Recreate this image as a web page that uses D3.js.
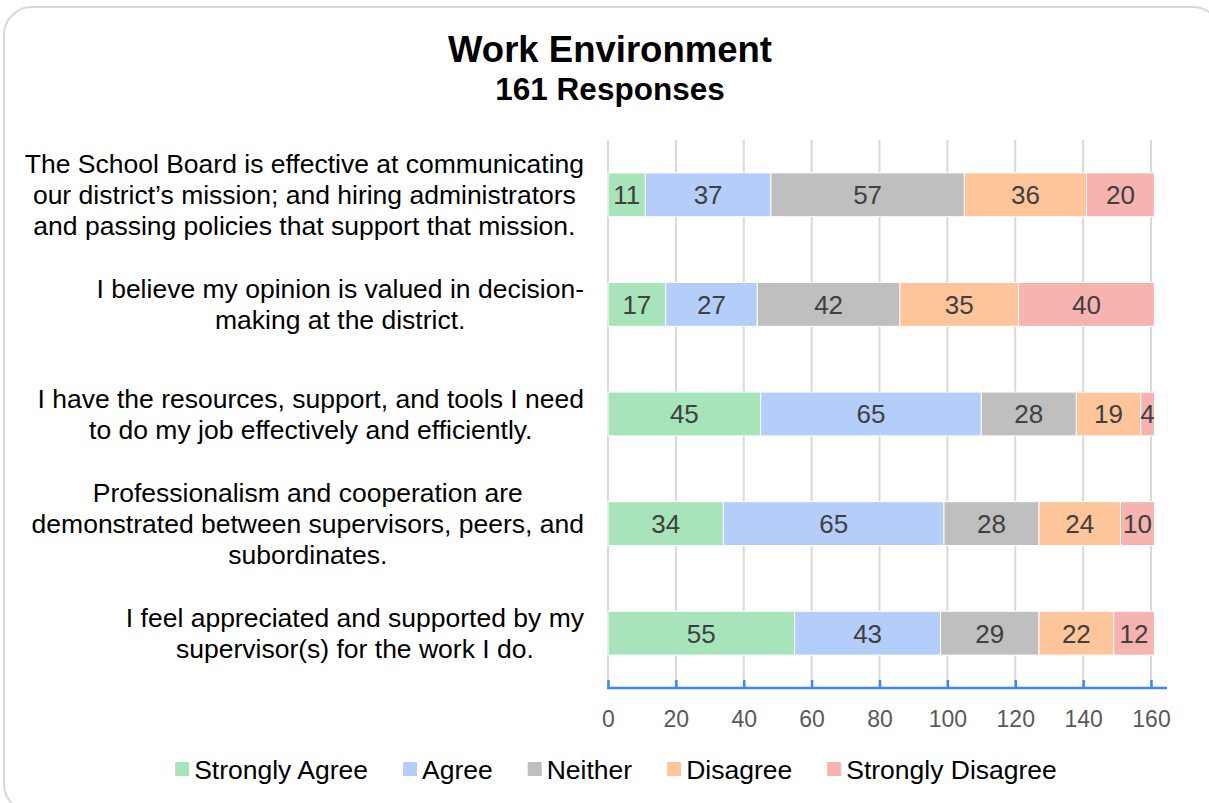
<!DOCTYPE html>
<html>
<head>
<meta charset="utf-8">
<script src="https://cdn.jsdelivr.net/npm/d3@7/dist/d3.min.js"></script>
<style>
  html, body { margin: 0; padding: 0; background: #ffffff; }
  svg { display: block; font-family: "Liberation Sans", Arial, sans-serif; }
</style>
</head>
<body>
<svg id="chart" width="1209" height="803"></svg>
<script>
const title = "Work Environment";
const subtitle = "161 Responses";
const categories = [
  "The School Board is effective at communicating\nour district’s mission; and hiring administrators\nand passing policies that support that mission.",
  "I believe my opinion is valued in decision-\nmaking at the district.",
  "I have the resources, support, and tools I need\nto do my job effectively and efficiently.",
  "Professionalism and cooperation are\ndemonstrated between supervisors, peers, and\nsubordinates.",
  "I feel appreciated and supported by my\nsupervisor(s) for the work I do."
];
const seriesNames = ["Strongly Agree", "Agree", "Neither", "Disagree", "Strongly Disagree"];
const stronglyAgree    = [11, 17, 45, 34, 55];
const agree            = [37, 27, 65, 65, 43];
const neither          = [57, 42, 28, 28, 29];
const disagree         = [36, 35, 19, 24, 22];
const stronglyDisagree = [20, 40, 4, 10, 12];
const colors = ["#a8e4b9", "#b4cef9", "#bfbfbf", "#fec59a", "#f6b3b0"];
const xTicks = [0, 20, 40, 60, 80, 100, 120, 140, 160];

const svg = d3.select("#chart");

// outer rounded border
svg.append("rect")
  .attr("x", 4).attr("y", 7).attr("width", 1217).attr("height", 805)
  .attr("rx", 28).attr("ry", 28)
  .attr("fill", "#fff").attr("stroke", "#d9d9d9").attr("stroke-width", 2);

// titles
svg.append("text").attr("x", 610).attr("y", 62).attr("text-anchor", "middle")
  .attr("font-size", 36.5).attr("font-weight", "bold").attr("fill", "#000").text(title);
svg.append("text").attr("x", 610).attr("y", 100).attr("text-anchor", "middle")
  .attr("font-size", 31.5).attr("font-weight", "bold").attr("fill", "#000").text(subtitle);

const x = d3.scaleLinear().domain([0, 160]).range([608, 1151]);
const y = d3.scaleBand().domain(d3.range(categories.length)).range([140, 688])
  .paddingInner(0.6).paddingOuter(0.3);

// gridlines
svg.append("g").selectAll("line").data(xTicks).join("line")
  .attr("x1", d => x(d)).attr("x2", d => x(d))
  .attr("y1", 140).attr("y2", 688)
  .attr("stroke", "#d9d9d9").attr("stroke-width", 2);

// stacked data
const rows = categories.map((c, i) => ({
  i,
  "Strongly Agree": stronglyAgree[i],
  "Agree": agree[i],
  "Neither": neither[i],
  "Disagree": disagree[i],
  "Strongly Disagree": stronglyDisagree[i]
}));
const stacked = d3.stack().keys(seriesNames)(rows);

const layers = svg.append("g").selectAll("g").data(stacked).join("g")
  .attr("fill", (d, k) => colors[k]);
layers.selectAll("rect").data(d => d).join("rect")
  .attr("x", d => x(d[0]))
  .attr("width", d => x(d[1]) - x(d[0]))
  .attr("y", d => y(d.data.i))
  .attr("height", y.bandwidth())
  .attr("stroke", "#ffffff").attr("stroke-width", 1);

// value labels
const lbl = svg.append("g");
stacked.forEach(layer => {
  layer.forEach(d => {
    lbl.append("text")
      .attr("x", (x(d[0]) + x(d[1])) / 2)
      .attr("y", y(d.data.i) + y.bandwidth() / 2)
      .attr("dy", "0.36em")
      .attr("text-anchor", "middle")
      .attr("font-size", 26)
      .attr("fill", "#404040")
      .text(d[1] - d[0]);
  });
});

// x axis
const axis = svg.append("g").attr("transform", "translate(0,688)")
  .call(d3.axisBottom(x).tickValues(xTicks).tickSize(0).tickPadding(0));
axis.select(".domain").remove();
axis.selectAll("text").remove();
axis.append("line").attr("x1", 607).attr("x2", 1167).attr("y1", 0).attr("y2", 0)
  .attr("stroke", "#3f86f2").attr("stroke-width", 2.5);
axis.selectAll(".tick").append("line").attr("y1", -8).attr("y2", 0)
  .attr("stroke", "#3f86f2").attr("stroke-width", 2.5);
axis.selectAll(".tick").append("text")
  .attr("y", 39).attr("text-anchor", "middle")
  .attr("font-size", 23).attr("fill", "#595959")
  .text(d => d);

// category labels: block right-aligned at 584, lines centred within block
const catG = svg.append("g");
categories.forEach((c, i) => {
  const lines = c.split("\n");
  const cy = y(i) + y.bandwidth() / 2;
  const lh = 31;
  const t = catG.append("text").attr("text-anchor", "middle")
    .attr("font-size", 26.5).attr("fill", "#000");
  const spans = lines.map((ln, j) => t.append("tspan")
    .attr("y", cy + (j - (lines.length - 1) / 2) * lh)
    .attr("dy", "0.36em").text(ln));
  const maxW = d3.max(spans, s => s.node().getComputedTextLength());
  spans.forEach(s => s.attr("x", 584 - maxW / 2));
});

// legend
const leg = svg.append("g");
const items = seriesNames.map((n, k) => {
  const g = leg.append("g");
  g.append("rect").attr("x", 0).attr("y", -7).attr("width", 14).attr("height", 14).attr("fill", colors[k]);
  const t = g.append("text").attr("x", 19).attr("dy", "0.36em")
    .attr("font-size", 26.5).attr("fill", "#000").text(n);
  return { g, w: 19 + t.node().getComputedTextLength() };
});
const gap = 35;
const total = d3.sum(items, d => d.w) + gap * (items.length - 1);
let cx = 616 - total / 2;
items.forEach(it => {
  it.g.attr("transform", `translate(${cx},769)`);
  cx += it.w + gap;
});
</script>
</body>
</html>
